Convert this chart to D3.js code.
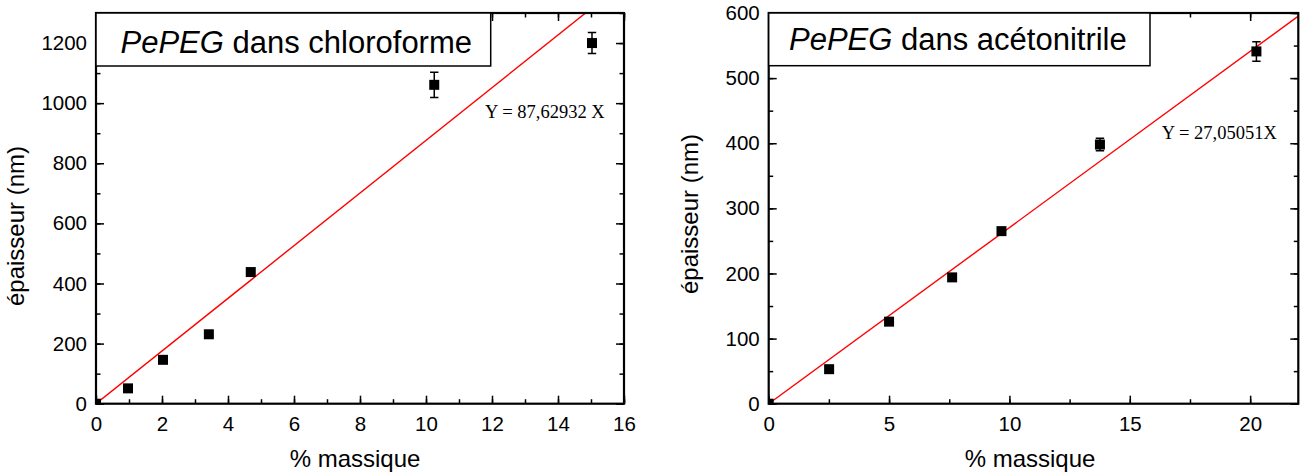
<!DOCTYPE html>
<html><head><meta charset="utf-8">
<script src="https://cdn.jsdelivr.net/npm/d3@7"></script>
<style>
body{margin:0;background:#fff;}
svg{display:block;}
text{font-family:"Liberation Sans",Arial,sans-serif;fill:#000;}
</style></head>
<body>
<svg id="chart" width="1303" height="473"></svg>
<script>
// ---- data ----
const chloroX = [0, 0.97, 2.03, 3.42, 4.69, 10.25, 15.03];
const chloroY = [0, 51, 146, 231, 438, 1061, 1200];
const chloroErr = [0, 6, 8, 6, 8, 42, 35];
const chloroSlope = 87.62932;
const chloroXTicks = [0, 2, 4, 6, 8, 10, 12, 14, 16];
const chloroYTicks = [0, 200, 400, 600, 800, 1000, 1200];

const acetoX = [0, 2.51, 5.0, 7.62, 9.67, 13.76, 20.26];
const acetoY = [0, 53, 126, 194, 265, 398, 541];
const acetoErr = [0, 3, 4, 4, 5, 9.5, 15];
const acetoSlope = 27.05051;
const acetoXTicks = [0, 5, 10, 15, 20];
const acetoYTicks = [0, 100, 200, 300, 400, 500, 600];

const titles = ["PePEG", "PePEG"];
const solvents = [" dans chloroforme", " dans acétonitrile"];
const equations = ["Y = 87,62932 X", "Y = 27,05051X"];
const xLabel = "% massique";
const yLabel = "épaisseur (nm)";

const svg = d3.select("#chart");

const panels = [
  {x: chloroX, y: chloroY, err: chloroErr, slope: chloroSlope,
   xdom: [0, 16], ydom: [0, 1300], xr: [96, 624], yr: [403.7, 13],
   xt: chloroXTicks, yt: chloroYTicks, xminor: d3.range(0, 16.01, 1), yminor: d3.range(0, 1300.1, 100),
   title: titles[0], solvent: solvents[0], titleX: 120.5, titleY: 52.7, boxR: 490.7, boxB: 66,
   eq: equations[0], eqX: 485, eqY: 118.3, ylabX: 24, ylabY: 226, xlabX: 355},
  {x: acetoX, y: acetoY, err: acetoErr, slope: acetoSlope,
   xdom: [0, 22], ydom: [0, 600], xr: [768.7, 1298.3], yr: [403.7, 13],
   xt: acetoXTicks, yt: acetoYTicks, xminor: d3.range(0, 22.01, 2.5), yminor: d3.range(0, 600.1, 50),
   title: titles[1], solvent: solvents[1], titleX: 789, titleY: 49.8, boxR: 1150, boxB: 65.7,
   eq: equations[1], eqX: 1161.7, eqY: 139.3, ylabX: 698, ylabY: 214, xlabX: 1030}
];

panels.forEach((p, i) => {
  const x = d3.scaleLinear().domain(p.xdom).range(p.xr);
  const y = d3.scaleLinear().domain(p.ydom).range(p.yr);
  const g = svg.append("g");
  const clipId = "clip" + i;
  svg.append("clipPath").attr("id", clipId).append("rect")
    .attr("x", p.xr[0]).attr("y", p.yr[1]).attr("width", p.xr[1] - p.xr[0]).attr("height", p.yr[0] - p.yr[1]);

  const plot = g.append("g").attr("clip-path", `url(#${clipId})`);

  // fit line
  const lineData = [p.xdom[0], p.xdom[1]].map(v => [v, v * p.slope]);
  plot.append("path").datum(lineData)
    .attr("d", d3.line().x(d => x(d[0])).y(d => y(d[1])))
    .attr("stroke", "#ff0000").attr("stroke-width", 1.4).attr("fill", "none");

  const pts = p.x.map((v, k) => ({x: v, y: p.y[k], e: p.err[k]}));
  // error bars
  const eb = plot.append("g").attr("stroke", "#000").attr("stroke-width", 1.5);
  pts.filter(d => d.e > 0).forEach(d => {
    eb.append("line").attr("x1", x(d.x)).attr("x2", x(d.x)).attr("y1", y(d.y - d.e)).attr("y2", y(d.y + d.e));
    eb.append("line").attr("x1", x(d.x) - 4.2).attr("x2", x(d.x) + 4.2).attr("y1", y(d.y - d.e)).attr("y2", y(d.y - d.e));
    eb.append("line").attr("x1", x(d.x) - 4.2).attr("x2", x(d.x) + 4.2).attr("y1", y(d.y + d.e)).attr("y2", y(d.y + d.e));
  });
  // markers
  plot.selectAll("rect.pt").data(pts).join("rect").attr("class", "pt")
    .attr("x", d => x(d.x) - 5).attr("y", d => y(d.y) - 5)
    .attr("width", 10).attr("height", 10).attr("fill", "#000");

  // axes
  const axStyle = sel => {
    sel.select(".domain").remove();
    sel.selectAll("line").attr("stroke", "#000").attr("stroke-width", 1.5);
    sel.selectAll("text").style("font-family", "Liberation Sans, Arial, sans-serif").style("font-size", "20.5px").attr("fill", "#000");
  };
  const bottom = p.yr[0], top = p.yr[1], left = p.xr[0], right = p.xr[1];
  g.append("g").attr("transform", `translate(0,${bottom})`)
    .call(d3.axisBottom(x).tickValues(p.xminor).tickSize(-4.5).tickFormat("")).call(axStyle);
  g.append("g").attr("transform", `translate(0,${bottom})`)
    .call(d3.axisBottom(x).tickValues(p.xt).tickSize(-8).tickPadding(13).tickFormat(d3.format("d"))).call(axStyle);
  g.append("g").attr("transform", `translate(0,${top})`)
    .call(d3.axisTop(x).tickValues(p.xminor).tickSize(-4.5).tickFormat("")).call(axStyle);
  g.append("g").attr("transform", `translate(0,${top})`)
    .call(d3.axisTop(x).tickValues(p.xt).tickSize(-8).tickFormat("")).call(axStyle);
  g.append("g").attr("transform", `translate(${left},0)`)
    .call(d3.axisLeft(y).tickValues(p.yminor).tickSize(-4.5).tickFormat("")).call(axStyle);
  g.append("g").attr("transform", `translate(${left},0)`)
    .call(d3.axisLeft(y).tickValues(p.yt).tickSize(-8).tickPadding(9).tickFormat(d3.format("d"))).call(axStyle);
  g.append("g").attr("transform", `translate(${right},0)`)
    .call(d3.axisRight(y).tickValues(p.yminor).tickSize(-4.5).tickFormat("")).call(axStyle);
  g.append("g").attr("transform", `translate(${right},0)`)
    .call(d3.axisRight(y).tickValues(p.yt).tickSize(-8).tickFormat("")).call(axStyle);

  // frame
  g.append("rect").attr("x", left).attr("y", top).attr("width", right - left).attr("height", bottom - top)
    .attr("fill", "none").attr("stroke", "#000").attr("stroke-width", 2.2);

  // title box
  g.append("rect").attr("x", left).attr("y", top).attr("width", p.boxR - left).attr("height", p.boxB - top)
    .attr("fill", "#fff").attr("stroke", "#000").attr("stroke-width", 1.5);
  const t = g.append("text").attr("x", p.titleX).attr("y", p.titleY).style("font-size", "31px");
  t.append("tspan").style("font-style", "italic").text(p.title);
  t.append("tspan").text(p.solvent);

  // equation
  g.append("text").attr("x", p.eqX).attr("y", p.eqY)
    .style("font-family", "Liberation Serif, Times New Roman, serif").style("font-size", "18.5px").text(p.eq);

  // axis labels
  g.append("text").attr("x", p.xlabX).attr("y", 467).attr("text-anchor", "middle")
    .style("font-size", "24px").text(xLabel);
  g.append("text").attr("transform", `translate(${p.ylabX},${p.ylabY}) rotate(-90)`).attr("text-anchor", "middle")
    .style("font-size", "24px").text(yLabel);
});
</script>
</body></html>
